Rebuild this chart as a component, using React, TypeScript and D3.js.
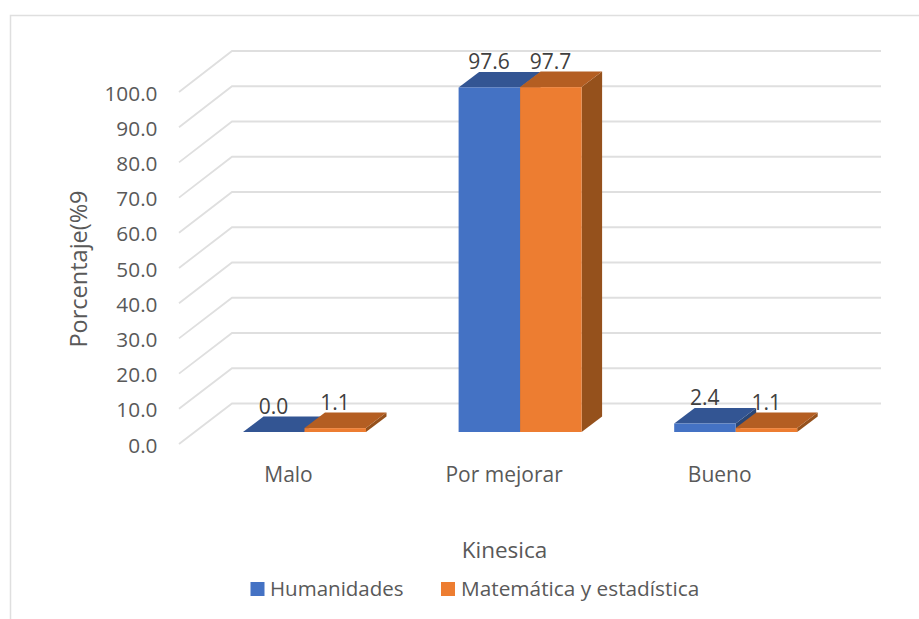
import React from "react";
import * as d3 from "d3";

const categories = ["Malo", "Por mejorar", "Bueno"];
const seriesNames = ["Humanidades", "Matemática y estadística"];
const humanidades = [0.0, 97.6, 2.4];
const matematica = [1.1, 97.7, 1.1];
const yTicks = [0, 10, 20, 30, 40, 50, 60, 70, 80, 90, 100];
const blue = ["#4472C4", "#335593", "#2A4675"];
const orange = ["#ED7D31", "#B45E22", "#95511C"];

const FONT = "'Open Sans', sans-serif";
const TEXT = "#595959";
const GRID = "#DFDFDF";
const DX = 20.5;
const DY = 15.5;

const yFront = d3.scaleLinear().domain([0, 100]).range([444, 92]);
const yBack = d3.scaleLinear().domain([0, 100]).range([403.5, 51]);
const yBar = d3.scaleLinear().domain([0, 100]).range([432, 79]);
const xGroup = d3.scaleBand<string>().domain(categories).range([182, 828.8]);
const barW = 61.5;

function Bar({ x, v, c }: { x: number; v: number; c: string[] }) {
  const top = yBar(v);
  const b = yBar(0);
  const w = barW;
  return (
    <g>
      <path d={`M${x + w},${top} L${x + w + DX},${top - DY} L${x + w + DX},${b - DY} L${x + w},${b} Z`} fill={c[2]} />
      <path d={`M${x},${top} L${x + DX},${top - DY} L${x + w + DX},${top - DY} L${x + w},${top} Z`} fill={c[1]} />
      <rect x={x} y={top} width={w} height={b - top} fill={c[0]} />
    </g>
  );
}

export default function App() {
  return (
    <svg
      width={919}
      height={619}
      style={{ position: "absolute", left: 0, top: 0, background: "#fff" }}
      fontFamily={FONT}
    >
      <path d="M10.5,619 V15.5 H919" fill="none" stroke={GRID} strokeWidth={1.5} />
      {yTicks.map((t) => (
        <g key={t}>
          <path d={`M179,${yFront(t)} L232,${yBack(t)} H881`} fill="none" stroke={GRID} strokeWidth={1.8} />
          <text x={157.5} y={yFront(t) + 8.5} textAnchor="end" fontSize={20.8} fill={TEXT}>
            {t.toFixed(1)}
          </text>
        </g>
      ))}
      {categories.map((cat, i) => {
        const x0 = xGroup(cat)! + 61;
        return (
          <g key={cat}>
            <Bar x={x0} v={humanidades[i]} c={blue} />
            <Bar x={x0 + barW} v={matematica[i]} c={orange} />
            <text x={x0 + 30.5} y={yBar(humanidades[i]) - DY - 3} textAnchor="middle" fontSize={21} fill="#404040">
              {humanidades[i].toFixed(1)}
            </text>
            <text x={x0 + 92} y={yBar(matematica[i]) - DY - 3} textAnchor="middle" fontSize={21} fill="#404040">
              {matematica[i].toFixed(1)}
            </text>
            <text x={x0 + 45.5} y={482} textAnchor="middle" fontSize={21} fill={TEXT}>
              {cat}
            </text>
          </g>
        );
      })}
      <text transform="translate(87,269) rotate(-90)" textAnchor="middle" fontSize={23.5} fill={TEXT}>
        Porcentaje(%9
      </text>
      <text x={504.5} y={558} textAnchor="middle" fontSize={22.5} fill={TEXT}>
        Kinesica
      </text>
      <rect x={250.5} y={582} width={14} height={14} fill={blue[0]} />
      <text x={270} y={596} fontSize={20.5} fill={TEXT}>
        {seriesNames[0]}
      </text>
      <rect x={441} y={582} width={14} height={14} fill={orange[0]} />
      <text x={461} y={596} fontSize={20.8} fill={TEXT}>
        {seriesNames[1]}
      </text>
    </svg>
  );
}
